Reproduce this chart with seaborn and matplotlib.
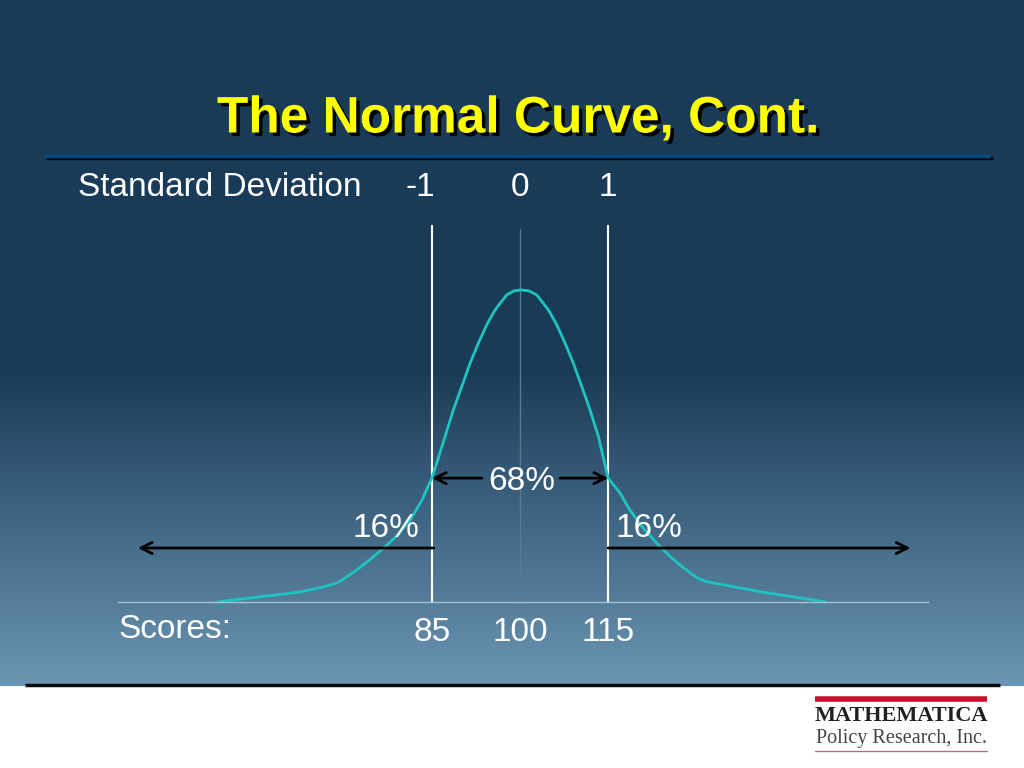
import numpy as np
import pandas as pd
import matplotlib
matplotlib.use('Agg')
import matplotlib.pyplot as plt
import matplotlib.patheffects as pe
import matplotlib.transforms as mtransforms
from matplotlib.colors import to_rgb
import seaborn as sns

sns.set_style('white')
plt.rcParams['font.family'] = ['Liberation Sans', 'DejaVu Sans']

# curve: score vs relative height (peak = 1)
curve_score = [48.3, 62.5, 66.0, 68.8, 70.2, 72.2, 74.4, 77.0, 79.2, 81.3, 83.3,
               84.95, 85.8, 87.22, 88.63, 90.06, 91.48, 92.89, 94.32, 95.74, 97.73, 98.98,
               100.2, 101.5, 102.85, 104.83, 106.26, 107.67, 109.08, 110.52, 111.93, 113.35,
               114.4, 115.0, 117.0, 118.7, 121.0, 123.3, 125.6, 127.8, 130.1, 131.8,
               140.9, 152.0]
curve_height = [0.0, 0.032, 0.046, 0.061, 0.077, 0.103, 0.135, 0.177, 0.215, 0.263, 0.327,
                0.396, 0.445, 0.530, 0.615, 0.690, 0.765, 0.829, 0.888, 0.936, 0.984, 0.997,
                1.0, 0.997, 0.984, 0.936, 0.888, 0.829, 0.765, 0.690, 0.615, 0.530,
                0.445, 0.397, 0.350, 0.295, 0.236, 0.188, 0.145, 0.110, 0.078, 0.065,
                0.033, 0.0]

scores = [85, 100, 115]
score_labels = ['85', '100', '115']
sd_labels = ['-1', '0', '1']
pct_inner = '68%'
pct_tail = '16%'

df = pd.DataFrame({'score': curve_score, 'height': curve_height})

fig = plt.figure(figsize=(10.24, 7.68), dpi=100, facecolor='white')

# slide background in pixel coordinates
bg = fig.add_axes([0, 0, 1, 1])
bg.axis('off')
top_c = np.array(to_rgb('#1a3b58'))
bot_c = np.array(to_rgb('#6b96b3'))
rows = np.arange(686)
t = np.clip((rows - 370) / (686 - 370), 0, 1)
grad = top_c[None, :] * (1 - t[:, None]) + bot_c[None, :] * t[:, None]
grad = np.repeat(grad[:, None, :], 2, axis=1)
bg.imshow(grad, extent=[0, 1024, 686, 0], aspect='auto', zorder=0)
bg.set_xlim(0, 1024)
bg.set_ylim(768, 0)

# title + rules
bg.text(518, 119, 'The Normal Curve, Cont.', color='#ffff00', fontsize=37,
        fontweight='bold', ha='center', va='center', zorder=3,
        path_effects=[pe.withSimplePatchShadow(offset=(2.5, -2.5), shadow_rgbFace='black', alpha=1)])
bg.plot([46, 993], [158, 158], color='#020a14', lw=2.5, solid_capstyle='butt', zorder=2)
bg.plot([44, 990], [155.5, 155.5], color='#0b4a78', lw=2.5, solid_capstyle='butt', zorder=2)
bg.plot([25, 1000], [684.5, 684.5], color='#0a0a0a', lw=2.5, solid_capstyle='butt', zorder=2)

bg.text(78, 188, 'Standard Deviation', color='white', fontsize=24, ha='left', va='center')
bg.text(118, 630, 'Scores:', color='white', fontsize=24, ha='left', va='center')

# logo
bg.plot([815, 987], [699, 699], color='#c8102e', lw=4, solid_capstyle='butt')
bg.text(901, 716, 'MATHEMATICA', family=['Liberation Serif', 'DejaVu Serif'], fontweight='bold',
        fontsize=16, color='#231f20', ha='center', va='center')
bg.text(901, 739, 'Policy Research, Inc.', family=['Liberation Serif', 'DejaVu Serif'],
        fontsize=14.5, color='#444444', ha='center', va='center')
bg.plot([815, 987], [751, 751], color='#b27080', lw=1)

# chart axes
ax = fig.add_axes([118 / 1024, (768 - 602) / 768, (928 - 118) / 1024, (602 - 225) / 768])
ax.patch.set_alpha(0)
ax.set_xlim(31.5, 169.5)
ax.set_ylim(0, 1.208)
for s in ['top', 'left', 'right']:
    ax.spines[s].set_visible(False)
ax.spines['bottom'].set_color('#a9c0d2')
ax.spines['bottom'].set_linewidth(1)
ax.set_yticks([])
ax.set_xticks(scores)
ax.set_xticklabels(score_labels)
ax.tick_params(axis='x', length=0, pad=11, labelsize=24, labelcolor='white')

ax.axvline(scores[1], color='#5c7890', lw=1, ymax=0.99, zorder=1)
for sx in (scores[0], scores[2]):
    ax.axvline(sx, color='white', lw=1.5, zorder=1)

sns.lineplot(data=df, x='score', y='height', sort=False, color='#1ec4c0', lw=2, ax=ax, zorder=3)
ax.set_xlabel('')
ax.set_ylabel('')

arrow_kw = dict(arrowstyle='->', color='black', lw=2, mutation_scale=20, shrinkA=0, shrinkB=0)
y68 = 0.397
y16 = 0.173
ax.annotate('', xy=(scores[0], y68), xytext=(93.5, y68), arrowprops=arrow_kw, zorder=4)
ax.annotate('', xy=(scores[2], y68), xytext=(106.8, y68), arrowprops=arrow_kw, zorder=4)
ax.annotate('', xy=(34.9, y16), xytext=(85.3, y16), arrowprops=arrow_kw, zorder=4)
ax.annotate('', xy=(166.5, y16), xytext=(115, y16), arrowprops=arrow_kw, zorder=4)

ax.text(scores[1] + 0.3, 0.385, pct_inner, color='white', fontsize=24, ha='center', va='center', zorder=5)
ax.text(77.1, 0.237, pct_tail, color='white', fontsize=24, ha='center', va='center', zorder=5)
ax.text(121.9, 0.237, pct_tail, color='white', fontsize=24, ha='center', va='center', zorder=5)

# standard deviation labels above the lines
tr = mtransforms.blended_transform_factory(ax.transData, bg.transData)
ax.text(scores[0] + 0.6, 188, sd_labels[0], transform=tr, color='white', fontsize=24,
        ha='right', va='center', clip_on=False)
for sx, lab in zip(scores[1:], sd_labels[1:]):
    ax.text(sx, 188, lab, transform=tr, color='white', fontsize=24, ha='center', va='center',
            clip_on=False)

fig.savefig('out.png', dpi=100, facecolor='white')
